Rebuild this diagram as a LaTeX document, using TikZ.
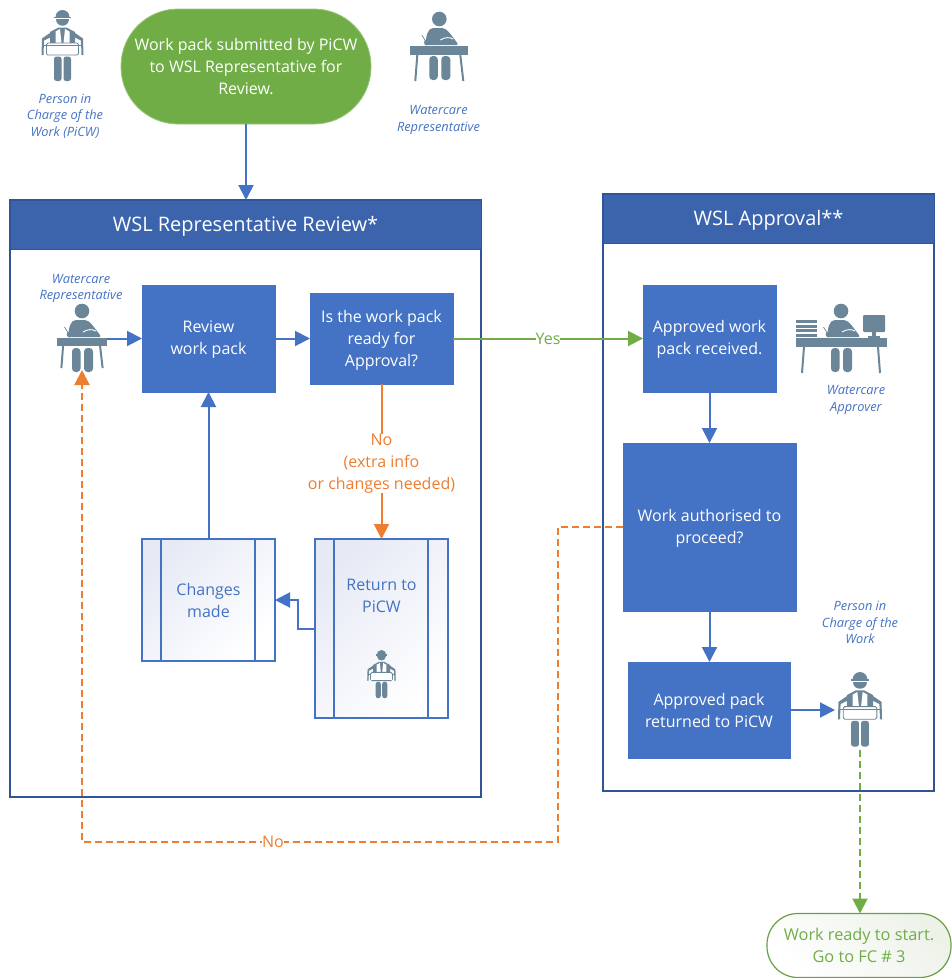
\documentclass[tikz,border=0pt]{standalone}
\usepackage{fontspec}
\setmainfont{Open Sans}
\usetikzlibrary{arrows.meta,calc}
\definecolor{bluebox}{HTML}{4472C4}
\definecolor{bluehead}{HTML}{3B64AD}
\definecolor{frameblue}{HTML}{2F5597}
\definecolor{orangeline}{HTML}{ED7D31}
\definecolor{greenbox}{HTML}{70AD47}
\definecolor{greenedge}{HTML}{68A043}
\definecolor{icongrey}{HTML}{6B8699}
\definecolor{gradstart}{HTML}{E6EAF5}
\definecolor{gradgreen}{HTML}{EDF2E9}
\newcommand\dnone{\rule{0pt}{14pt}}
\newcommand\dntwo{\rule{0pt}{16pt}}
\tikzset{
  x=1pt,y=-1pt,
  every node/.style={inner sep=0pt,outer sep=0pt,align=center},
  txt/.style={font=\fontsize{16}{22}\selectfont},
  process/.style={txt,fill=bluebox,draw=bluebox,text=white,line width=.8pt},
  frame/.style={draw=frameblue,line width=1.3pt,fill=white},
  head/.style={fill=bluehead,draw=frameblue,line width=1pt},
  headtext/.style={text=white,font=\fontsize{20}{24}\selectfont},
  subproc/.style={txt,draw=bluebox,line width=1.5pt,left color=gradstart,right color=white,shading angle=45,text=bluebox},
  role/.style={font=\fontsize{12.8}{16.5}\selectfont\itshape,text=bluebox},
  iconbox/.style={draw=none,fill=none},
  blueline/.style={draw=bluebox,line width=2pt,-{Triangle[length=15pt,width=15pt]}},
  orangeline/.style={draw=orangeline,line width=2pt,-{Triangle[length=15pt,width=15pt]}},
  greenline/.style={draw=greenbox,line width=2pt,-{Triangle[length=15pt,width=15pt]}},
  lbl/.style={fill=white,txt},
  pics/worker/.style={code={
    \fill[icongrey] (-7,7) arc[start angle=180,end angle=360,radius=7] -- cycle;
    \fill[icongrey] (-8.8,6.6) rectangle (8.8,8.2);
    \fill[icongrey] (-6.5,9.2) -- (6.5,9.2) .. controls (6.5,18) and (-6.5,18) .. (-6.5,9.2) -- cycle;
    \fill[icongrey] (-12.5,33) -- (-12.5,22) -- (-4,17.5) -- (4,17.5) -- (12.5,22) -- (12.5,33) -- cycle;
    \fill[white] (-7,21.5) -- (-2.5,19) -- (-1,33) -- (-7,33) -- cycle;
    \fill[white] (7,21.5) -- (2.5,19) -- (1,33) -- (7,33) -- cycle;
    \fill[icongrey] (-12.5,23) -- (-20.5,28.5) -- (-21,45) -- (-19,45) -- (-18.5,30.5) -- (-12.5,27.5) -- cycle;
    \fill[icongrey] (12.5,23) -- (20.5,28.5) -- (21,45) -- (19,45) -- (18.5,30.5) -- (12.5,27.5) -- cycle;
    \draw[icongrey,fill=white,line width=.9pt,rounded corners=1.5pt] (-16,33) rectangle (16,45);
    \fill[icongrey] (-20,35) rectangle (20,36);
    \fill[white] (-15.5,36) rectangle (15.5,44.2);
    \fill[icongrey,rounded corners=2.5pt] (-8.5,46.5) rectangle (-1,71);
    \fill[icongrey,rounded corners=2.5pt] (1,46.5) rectangle (8.5,71);
  }},
  pics/deskman/.style={code={
    \fill[icongrey] (0,-27) circle[radius=7.3];
    \fill[icongrey] (-14,-1) .. controls (-13,-10) and (-12,-18) .. (-6,-18) -- (3,-18) .. controls (8,-18) and (13,-9) .. (18,-3) -- (18,-1) -- cycle;
    \draw[white,line width=.9pt] (1,-6) .. controls (6,-9) and (10,-9) .. (14,-7);
    \draw[icongrey,line width=.7pt] (-17.5,-11) -- (-12.5,-3);
    \fill[icongrey] (-12.5,-3.5) circle[radius=2.8];
    \fill[icongrey,rounded corners=3.5pt] (-10,10) rectangle (-1.5,34);
    \fill[icongrey,rounded corners=3.5pt] (2,10) rectangle (11,34);
  }},
  pics/desk/.style={code={
    \pic {deskman};
    \fill[icongrey] (-29.5,0) rectangle (29,9);
    \draw[icongrey,line width=2pt] (-22,9) -- (-24,35);
    \draw[icongrey,line width=2pt] (21,9) -- (24,35);
  }},
  pics/deskwide/.style={code={
    \pic {deskman};
    \fill[icongrey] (-45,0) rectangle (46,9);
    \draw[icongrey,line width=2pt] (-37,9) -- (-39,35);
    \draw[icongrey,line width=2pt] (37,9) -- (39,35);
    \foreach \yy in {-18,-13.5,-9,-4.5} \fill[icongrey] (-45,\yy) rectangle (-24,\yy+3.2);
    \fill[icongrey,rounded corners=1pt] (22,-23) rectangle (44,-6);
    \fill[icongrey] (31,-6) rectangle (35,-2);
    \fill[icongrey] (27,-2.5) rectangle (39,-.5);
  }},
}
\begin{document}
\begin{tikzpicture}
\useasboundingbox (0,0) rectangle (952,978);
% frames
\node[frame,minimum width=471,minimum height=597] (leftframe) at (245.5,498.5) {};
\node[head,minimum width=471,minimum height=49] (lefthead) at (245.5,224.5) {};
\node[headtext] (leftheadtext) at (245.5,226) {WSL Representative Review*};
\node[frame,minimum width=331,minimum height=597] (rightframe) at (768.5,492.5) {};
\node[head,minimum width=331,minimum height=49] (righthead) at (768.5,218.5) {};
\node[headtext] (rightheadtext) at (768.5,220) {WSL Approval**};
% terminals
\node[txt,fill=greenbox,draw=greenbox!70!white,line width=.8pt,rounded corners=57pt,minimum width=250,minimum height=115,text=white] (start) at (246,66.5) {Work pack submitted by PiCW\\to WSL Representative for\\Review.};
\node[font=\fontsize{16.3}{22}\selectfont,draw=greenedge,line width=1.2pt,rounded corners=31pt,minimum width=184,minimum height=64,text=greenbox,left color=gradgreen,right color=white,shading angle=-45] (finish) at (859,945.5) {Work ready to start.\\Go to FC \# 3};
% process boxes
\node[process,minimum width=133,minimum height=107] (review) at (208.5,338.5) {\dnone Review\\work pack};
\node[process,minimum width=143,minimum height=91] (ready) at (381.5,338.5) {\dntwo Is the work pack\\ready for\\Approval?};
\node[process,minimum width=133,minimum height=107] (received) at (709.5,338.5) {\dnone Approved work\\pack received.};
\node[process,minimum width=173,minimum height=168] (auth) at (709.5,527) {\dnone Work authorised to\\proceed?};
\node[process,minimum width=162,minimum height=96] (returned) at (709,710) {Approved pack\\returned to PiCW};
\node[subproc,minimum width=133,minimum height=122] (changes) at (208.5,600) {Changes\\made};
\node[subproc,minimum width=133,minimum height=179] (ret) at (381.5,628.5) {};
\node[txt,text=bluebox] (rettext) at (381.5,596) {Return to\\PiCW};
\foreach \nn in {changes,ret}{
  \draw[draw=bluebox,line width=1.5pt] ($(\nn.north west)+(19,0)$) -- ($(\nn.south west)+(19,0)$);
  \draw[draw=bluebox,line width=1.5pt] ($(\nn.north east)+(-20,0)$) -- ($(\nn.south east)+(-20,0)$);
}
% icons
\pic at (62.5,10) {worker};
\pic at (439.3,46) {desk};
\pic[scale=.86] at (82,338) {desk};
\pic at (841,338) {deskwide};
\pic[scale=1.05] at (860,672) {worker};
\pic[scale=.68] at (381.5,650) {worker};
\node[iconbox,minimum width=50,minimum height=63] (repicon) at (82,338.5) {};
\node[iconbox,minimum width=50,minimum height=80] (workericon) at (860,710) {};
% role labels
\node[role] (rolea) at (65,116) {Person in\\Charge of the\\Work (PiCW)};
\node[role] (roleb) at (438.5,120) {Watercare\\Representative};
\node[role] (rolec) at (81,288.5) {Watercare\\Representative};
\node[role] (roled) at (856,400) {Watercare\\Approver};
\node[role] (rolee) at (860,622.5) {Person in\\Charge of the\\Work};
% connectors
\draw[blueline] (start.south) -- (lefthead.north -| start.south);
\draw[blueline] (repicon.east) -- (review.west);
\draw[blueline] (review.east) -- (ready.west);
\draw[greenline] (ready.east) -- node[lbl,text=greenbox,pos=.5]{Yes} (received.west);
\draw[blueline] (received.south) -- (auth.north);
\draw[blueline] (auth.south) -- (auth.south |- returned.north);
\draw[blueline] (returned.east) -- (workericon.west);
\draw[orangeline] (ready.south) -- node[lbl,text=orangeline,pos=.505,yshift=-1.5pt]{No\\(extra info\\or changes needed)} (ready.south |- ret.north);
\draw[blueline] (changes.north) -- (review.south);
\draw[blueline] (ret.west) -- ++(-17,0) |- (changes.east);
\coordinate (bend) at (558,842);
\draw[orangeline,dashed,dash pattern=on 7pt off 4pt] (auth.west) -| (bend) -- node[lbl,text=orangeline,pos=.5987]{No} (repicon.south |- bend) -- (repicon.south);
\draw[greenline,dashed,dash pattern=on 7pt off 4pt] (workericon.south) -- (workericon.south |- finish.north);
\end{tikzpicture}
\end{document}
